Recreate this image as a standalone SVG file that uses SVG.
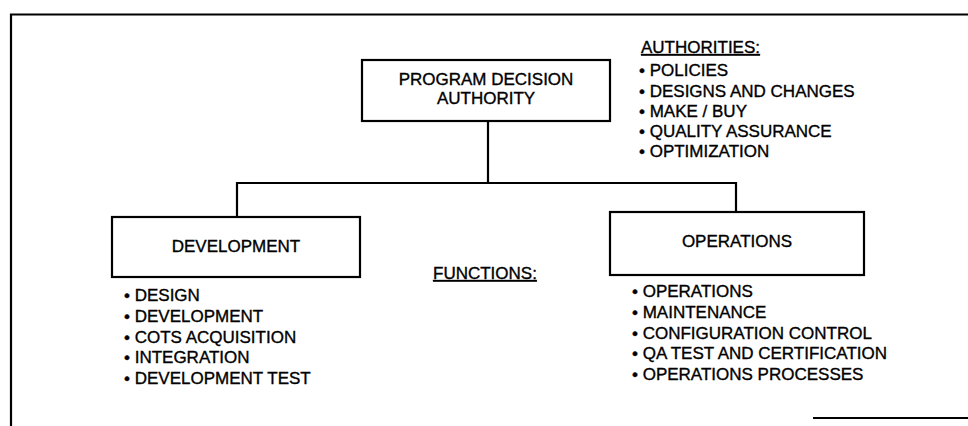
<svg xmlns="http://www.w3.org/2000/svg" width="968" height="426" viewBox="0 0 968 426">
<style>
text{font-family:"Liberation Sans",Arial,sans-serif;font-size:17px;fill:#000;stroke:#000;stroke-width:0.35}
.c{text-anchor:middle}
.u{text-decoration:underline}
.box{fill:#fff;stroke:#000;stroke-width:2.2}
.ln{fill:none;stroke:#000;stroke-width:2.2}
</style>
<rect width="968" height="426" fill="#fff"/>
<g id="frame">
<path class="ln" d="M11,426 V14.5 H968"/>
<path class="ln" d="M813,418 H968"/>
</g>
<g id="connectors">
<path class="ln" d="M488,121 V183"/>
<path class="ln" d="M237,217 V183 H736 V212"/>
</g>
<g id="pda">
<rect class="box" x="362" y="60" width="248" height="61"/>
<text class="c" x="486" y="85">PROGRAM DECISION</text>
<text class="c" x="486" y="104">AUTHORITY</text>
</g>
<g id="authorities">
<text class="u" x="641" y="53">AUTHORITIES:</text>
<text x="639" y="76">• POLICIES</text>
<text x="639" y="96.5">• DESIGNS AND CHANGES</text>
<text x="639" y="116.5">• MAKE / BUY</text>
<text x="639" y="136.5">• QUALITY ASSURANCE</text>
<text x="639" y="156.5">• OPTIMIZATION</text>
</g>
<g id="development">
<rect class="box" x="112" y="217" width="248" height="60"/>
<text class="c" x="236" y="252">DEVELOPMENT</text>
<text x="124" y="300.5">• DESIGN</text>
<text x="124" y="321.5">• DEVELOPMENT</text>
<text x="124" y="342.5">• COTS ACQUISITION</text>
<text x="124" y="363">• INTEGRATION</text>
<text x="124" y="384">• DEVELOPMENT TEST</text>
</g>
<g id="functions">
<text class="u" x="433" y="279">FUNCTIONS:</text>
</g>
<g id="operations">
<rect class="box" x="610" y="212" width="254" height="63"/>
<text class="c" x="737" y="247">OPERATIONS</text>
<text x="632" y="297">• OPERATIONS</text>
<text x="632" y="318">• MAINTENANCE</text>
<text x="632" y="338.5">• CONFIGURATION CONTROL</text>
<text x="632" y="359">• QA TEST AND CERTIFICATION</text>
<text x="632" y="380">• OPERATIONS PROCESSES</text>
</g>
</svg>
